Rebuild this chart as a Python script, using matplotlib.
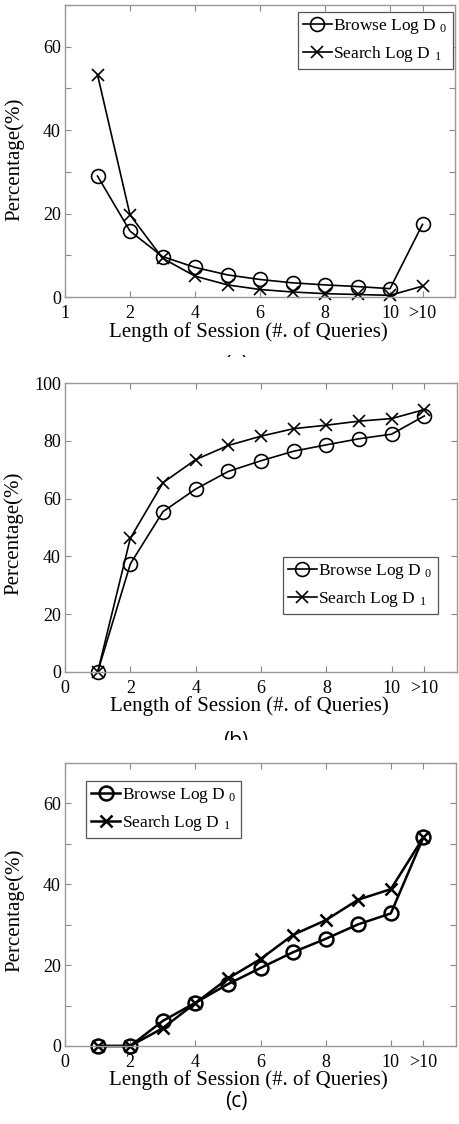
import matplotlib
matplotlib.use("Agg")
import matplotlib.pyplot as plt
from matplotlib.transforms import Bbox, TransformedBbox

plt.rcParams['font.family'] = ['Liberation Serif', 'DejaVu Serif']
plt.rcParams['mathtext.fontset'] = 'custom'
plt.rcParams['mathtext.rm'] = 'Liberation Serif'
plt.rcParams['mathtext.it'] = 'Liberation Serif'

# session length positions (11 = ">10")
lengths = [1, 2, 3, 4, 5, 6, 7, 8, 9, 10, 11]

# (a) distribution of session length
a_browse = [29.0, 15.8, 9.7, 7.1, 5.3, 4.2, 3.4, 2.9, 2.5, 2.0, 17.4]
a_search = [53.3, 19.7, 9.3, 5.0, 2.9, 1.8, 1.2, 0.8, 0.6, 0.4, 2.6]

# (b)
b_browse = [0, 37.4, 55.5, 63.3, 69.4, 73.1, 76.4, 78.6, 80.7, 82.3, 88.6]
b_search = [0, 46.3, 65.5, 73.5, 78.4, 81.6, 84.2, 85.4, 86.8, 87.7, 90.8]

# (c)
c_browse = [0, 0, 6.2, 10.7, 15.3, 19.3, 23.2, 26.5, 30.1, 32.8, 51.6]
c_search = [0, 0, 4.4, 10.6, 16.7, 21.5, 27.5, 31.1, 36.2, 38.8, 51.6]

xtick_pos = [0, 2, 4, 6, 8, 10, 11]
xlabels_a = ["1", "2", "4", "6", "8", "10", ">10"]
xlabels_bc = ["0", "2", "4", "6", "8", "10", ">10"]

labels = [r"Browse Log D$\,\,_0$", r"Search Log D$\,\,_1$"]

W, H = 459, 1124
fig = plt.figure(figsize=(W / 100, H / 100), dpi=100)


def px_axes(left, right, top, bottom):
    return fig.add_axes([left / W, 1 - bottom / H, (right - left) / W, (bottom - top) / H])


def style(ax, ymax, ystep, ylab_step, xlabels, ylab_y):
    ax.set_xlim(0, 12)
    ax.set_ylim(0, ymax)
    ax.set_xticks(xtick_pos)
    ax.set_xticklabels(xlabels)
    yt = list(range(0, ymax + 1, ystep))
    ax.set_yticks(yt)
    ax.set_yticklabels([str(v) if v % ylab_step == 0 else "" for v in yt])
    ax.tick_params(direction='in', top=True, right=True, length=4, width=0.8,
                   labelsize=13, colors='#888888', labelcolor='black', pad=3)
    ax.tick_params(axis='x', pad=6)
    for s in ax.spines.values():
        s.set_color('#999999')
        s.set_linewidth(1.0)
    ax.set_xlabel("Length of Session (#. of Queries)", fontsize=15)
    ax.set_ylabel("Percentage(%)", fontsize=15)
    ax.xaxis.set_label_coords(0.47, -0.085)
    ax.yaxis.set_label_coords(-0.105, ylab_y)


def draw(ax, browse, search, lw):
    ax.plot(lengths, browse, color='black', lw=lw, marker='o', ms=10,
            mfc='none', mew=lw, label=labels[0], clip_on=False)
    ax.plot(lengths, search, color='black', lw=lw, marker='x', ms=9,
            mew=lw, label=labels[1], clip_on=False)


def legend(ax, loc, anchor):
    leg = ax.legend(loc=loc, bbox_to_anchor=anchor, borderaxespad=0, fontsize=12.5,
                    handlelength=1.65, handletextpad=0.1, labelspacing=0.45,
                    borderpad=0.3, fancybox=False, framealpha=1)
    leg.get_frame().set_edgecolor('#555555')
    leg.get_frame().set_linewidth(0.9)


# panel (a)
ax1 = px_axes(65, 455, 5, 297)
draw(ax1, a_browse, a_search, 1.2)
style(ax1, 70, 10, 20, xlabels_a, 0.47)
legend(ax1, 'upper right', (0.995, 0.976))

# panel (b)
ax2 = px_axes(65, 457, 383, 672)
draw(ax2, b_browse, b_search, 1.2)
style(ax2, 100, 20, 20, xlabels_bc, 0.48)
legend(ax2, 'upper right', (0.952, 0.398))

# panel (c)
ax3 = px_axes(65, 456, 763, 1046)
draw(ax3, c_browse, c_search, 1.8)
style(ax3, 70, 10, 20, xlabels_bc, 0.48)
legend(ax3, 'upper left', (0.054, 0.936))


def caption(text, x, y, cut):
    # captions of (a) and (b) are cut off in the source image
    t = fig.text(x / W, 1 - y / H, text, ha='center', va='center',
                 fontsize=15, family='Open Sans')
    if cut is not None:
        box = Bbox([[0, 1 - cut / H], [1, 1]])
        t.set_clip_box(TransformedBbox(box, fig.transFigure))
        t.set_clip_on(True)


caption("(a)", 236, 366, 357)
caption("(b)", 236, 742, 740)
caption("(c)", 236, 1101, None)

fig.savefig("out.png", dpi=100)
